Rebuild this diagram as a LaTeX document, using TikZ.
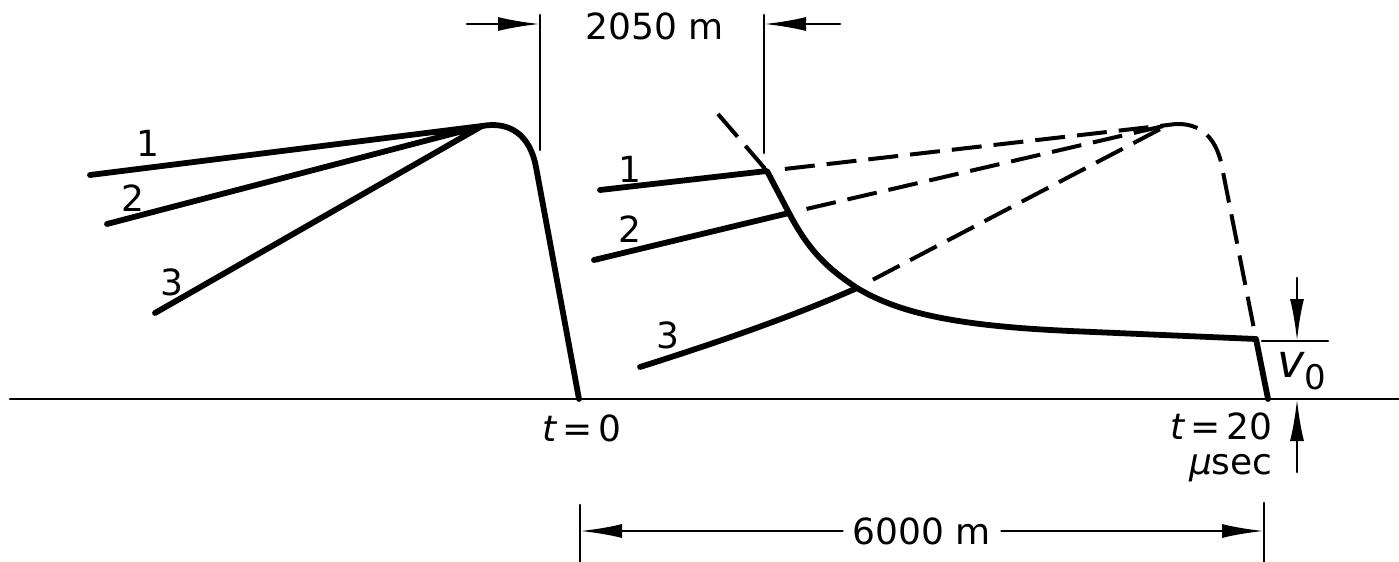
\documentclass[tikz,border=0pt]{standalone}
\usepackage{fontspec}
\setmainfont{DejaVu Sans}
\usetikzlibrary{arrows.meta}

\begin{document}
\begin{tikzpicture}[x=0.5pt, y=-0.5pt, line cap=round, line join=round,
  >={Latex[length=21pt,width=7pt]},
  pulse/.style={line width=2.9pt},
  ghost/.style={line width=2pt, line cap=butt, dash pattern=on 15pt off 6pt},
  thin/.style={line width=1.3pt},
  lbl/.style={font=\fontsize{18pt}{20pt}\selectfont, inner sep=0pt}]
  \useasboundingbox (0,0) rectangle (1399,562);
  % baseline
  \coordinate (base0) at (10,399);
  \coordinate (base1) at (1399,399);
  \draw[thin] (base0) -- (base1);
  % left pulse
  \coordinate (la) at (90,175);
  \coordinate (lb) at (107,224);
  \coordinate (lc) at (155,313);
  \coordinate (ltop) at (482,126);
  \coordinate (lbend) at (536,167);
  \coordinate (lfoot) at (579,399);
  \draw[pulse] (la) -- (ltop) (lb) -- (ltop) (lc) -- (ltop);
  \draw[pulse] (ltop) .. controls (510,121) and (530,135) .. (lbend) -- (lfoot);
  \node[lbl] (lone) at (148,143) {1};
  \node[lbl] (ltwo) at (133,198) {2};
  \node[lbl] (lthree) at (172,282) {3};
  % right pulse
  \coordinate (ra) at (600,190);
  \coordinate (rb) at (594,260);
  \coordinate (rc) at (640,367);
  \coordinate (ca) at (767,171);
  \coordinate (cb) at (789,213);
  \coordinate (cc) at (857,288);
  \coordinate (rtail) at (1070,331);
  \coordinate (rend) at (1256,339);
  \coordinate (rfoot) at (1268,399);
  \draw[pulse] (ra) -- (ca) -- (cb) .. controls (809,251) and (827,268) .. (cc)
    .. controls (900,314) and (960,326) .. (rtail) -- (rend) -- (rfoot);
  \draw[pulse] (rb) -- (cb);
  \draw[pulse] (rc) .. controls (700,348) and (785,320) .. (cc);
  \node[lbl] (rone) at (630,169) {1};
  \node[lbl] (rtwo) at (630,229) {2};
  \node[lbl] (rthree) at (668,335) {3};
  % undistorted pulse, dashed
  \coordinate (gstart) at (718,114);
  \coordinate (rtop) at (1168,125);
  \coordinate (rbend) at (1222,167);
  \draw[ghost] (gstart) -- (ca);
  \draw[ghost, shorten <=9pt] (ca) -- (rtop);
  \draw[ghost, shorten <=9pt] (cb) -- (rtop);
  \draw[ghost, shorten <=9pt] (cc) -- (rtop);
  \draw[ghost] (rtop) .. controls (1196,120) and (1216,134) .. (rbend) -- (rend);
  % 2050 m
  \coordinate (wl0) at (540,15);
  \coordinate (wl1) at (540,150);
  \coordinate (wr0) at (764,15);
  \coordinate (wr1) at (764,153);
  \coordinate (al) at (467,24);
  \coordinate (ar) at (840,24);
  \draw[thin] (wl0) -- (wl1) (wr0) -- (wr1);
  \draw[thin,->] (al) -- (al -| wl0);
  \draw[thin,->] (ar) -- (ar -| wr0);
  \node[lbl] (wlen) at (655,26) {2050 m};
  % v0
  \coordinate (vt0) at (1262,341);
  \coordinate (vt1) at (1328,341);
  \coordinate (vtop) at (1297,278);
  \coordinate (vbot) at (1297,472);
  \draw[thin] (vt0) -- (vt1);
  \draw[thin,->] (vtop) -- (vtop |- vt0);
  \draw[thin,->] (vbot) -- (vbot |- base0);
  \node[lbl] (vnull) at (1302,371) {{\fontsize{23pt}{23pt}\selectfont\itshape v}\raisebox{-6pt}{\fontsize{17pt}{17pt}\selectfont 0}};
  % time marks
  \node[lbl] (tzero) at (582,428) {{\itshape t}\,=\,0};
  \node[lbl, align=right, anchor=north east,
    font=\fontsize{18pt}{17.5pt}\selectfont] (ttwenty) at (1273,412)
    {{\itshape t}\,=\,20\\{\itshape μ}sec};
  % 6000 m
  \coordinate (bl0) at (580,505);
  \coordinate (bl1) at (580,562);
  \coordinate (br0) at (1264,503);
  \coordinate (br1) at (1264,562);
  \draw[thin] (bl0) -- (bl1) (br0) -- (br1);
  \node[lbl, inner xsep=5pt] (dist) at (922,531) {6000 m};
  \draw[thin,->] (dist) -- (dist -| bl0);
  \draw[thin,->] (dist) -- (dist -| br0);
\end{tikzpicture}
\end{document}
